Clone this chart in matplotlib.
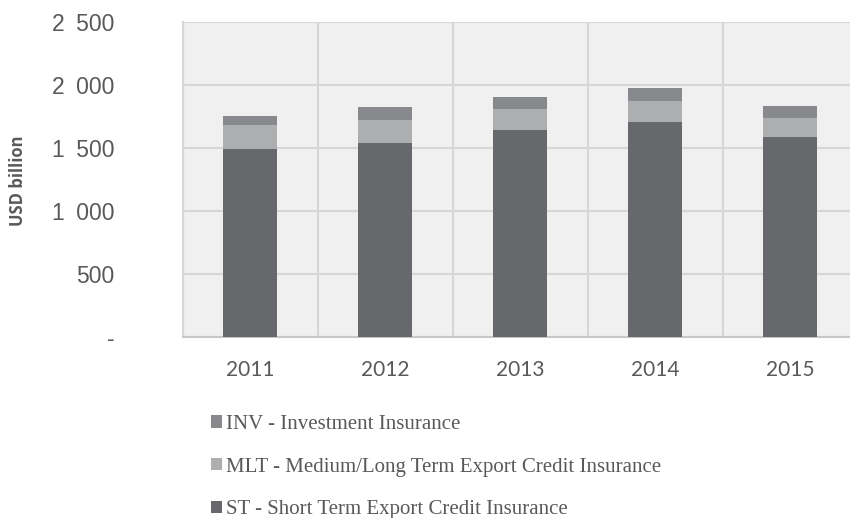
import matplotlib.pyplot as plt
from matplotlib.patches import Patch
import numpy as np

# ------- DATA ------------------
years = ['2011', '2012', '2013', '2014', '2015']
st_values = [1492, 1537, 1645, 1706, 1587]   # short term
mlt_values = [193, 183, 165, 164, 151]       # medium/long term
inv_values = [71, 103, 95, 104, 98]          # investment
y_ticks = [0, 500, 1000, 1500, 2000, 2500]
y_tick_labels = ['-', '500', '1\u2002000', '1\u2002500', '2\u2002000', '2\u2002500']

series_labels = ['ST - Short Term Export Credit Insurance',
                 'MLT - Medium/Long Term Export Credit Insurance',
                 'INV - Investment Insurance']
series_colors = ['#67686b', '#adaeb0', '#88898c']

text_grey = '#595959'
grid_grey = '#d6d6d6'

# ------- FIGURE ------------------
fig = plt.figure(figsize=(8.5, 5.18), dpi=100)
ax = fig.add_axes([182.7 / 850, 1 - 337.3 / 518, 1 - 182.7 / 850, (337.3 - 22) / 518])
ax.set_facecolor('#f0f0f0')

x = np.arange(len(years))
width = 0.40
st = np.array(st_values)
mlt = np.array(mlt_values)
inv = np.array(inv_values)

ax.bar(x, st, width, color=series_colors[0], zorder=3)
ax.bar(x, mlt, width, bottom=st, color=series_colors[1], zorder=3)
ax.bar(x, inv, width, bottom=st + mlt, color=series_colors[2], zorder=3)

# gridlines: horizontal on major y ticks, vertical between categories
ax.set_yticks(y_ticks)
ax.set_yticklabels(y_tick_labels, fontfamily='Liberation Sans', fontsize=16.5, color=text_grey)
ax.set_xticks(x)
ax.set_xticklabels(years, fontfamily='Lato', fontsize=15, color=text_grey)
ax.set_xticks(np.arange(-0.5, len(years), 1), minor=True)
ax.grid(True, which='major', axis='y', color=grid_grey, linewidth=1.5, zorder=0)
ax.grid(True, which='minor', axis='x', color=grid_grey, linewidth=1.5, zorder=0)
ax.tick_params(which='both', length=0)
ax.tick_params(axis='y', pad=49)
ax.tick_params(axis='x', pad=16)

# limits after the ticks, so the minor ticks don't widen the view
ax.set_xlim(-0.5, (850 - 182.7) / 135 - 0.5)
ax.set_ylim(0, 2500)

for side in ['top', 'right']:
    ax.spines[side].set_visible(False)
ax.spines['left'].set_color(grid_grey)
ax.spines['left'].set_linewidth(1.5)
ax.spines['bottom'].set_color('#c8c8c8')
ax.spines['bottom'].set_linewidth(1.5)

fig.text(18 / 850, 1 - 181 / 518, 'USD billion', rotation=90, ha='center', va='center',
         fontfamily='Open Sans', fontweight='bold', fontsize=12, color=text_grey)

# legend in reversed stack order (INV first)
handles = [Patch(facecolor=series_colors[i], edgecolor='none', label=series_labels[i])
           for i in [2, 1, 0]]
fig.legend(handles=handles, loc='upper left', bbox_to_anchor=(211 / 850, 1 - 415 / 518),
           frameon=False, prop={'family': 'Liberation Serif', 'size': 15},
           labelcolor=text_grey, handlelength=0.53, handleheight=0.53,
           handletextpad=0.2, labelspacing=1.13, borderaxespad=0, borderpad=0)

fig.savefig('out.png', dpi=100)
